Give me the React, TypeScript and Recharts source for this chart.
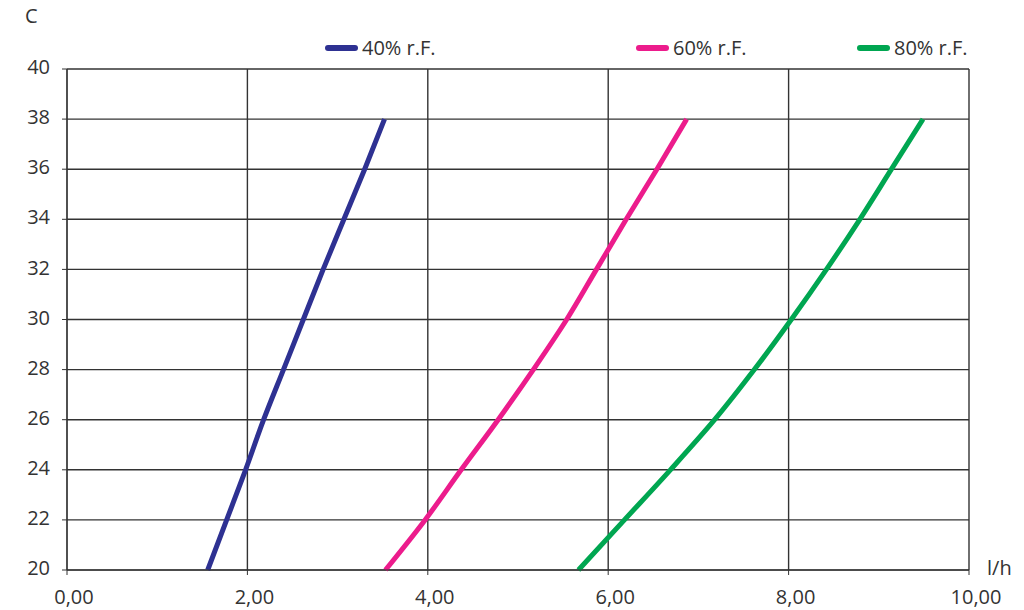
import React from 'react';
import { LineChart, Line, XAxis, YAxis, CartesianGrid, Legend } from 'recharts';

// temperature in C (y axis), water output in l/h (x axis)
const temps = [20, 22, 24, 26, 28, 30, 32, 34, 36, 38];
const rf40 = [1.56, 1.77, 1.98, 2.18, 2.40, 2.62, 2.84, 3.07, 3.30, 3.52];
const rf60 = [3.53, 3.97, 4.37, 4.78, 5.17, 5.54, 5.87, 6.20, 6.54, 6.87];
const rf80 = [5.67, 6.18, 6.69, 7.18, 7.62, 8.03, 8.42, 8.79, 9.14, 9.49];

const xTicks = [0, 2, 4, 6, 8, 10];
const yTicks = [20, 22, 24, 26, 28, 30, 32, 34, 36, 38, 40];
const seriesNames = ['40% r.F.', '60% r.F.', '80% r.F.'];

const data = temps.map((t, i) => ({ t, rf40: rf40[i], rf60: rf60[i], rf80: rf80[i] }));

const FONT = '"Open Sans", sans-serif';
const INK = '#333';
const legendLeft = [325, 636, 857];

function LegendBox({ payload }: any) {
    return (
        <div style={{ position: 'relative', height: 26, fontFamily: FONT, fontSize: 20, color: INK }}>
            {(payload || []).map((p: any, i: number) => (
                <div key={p.value} style={{ position: 'absolute', left: legendLeft[i], top: 0, display: 'flex', alignItems: 'center', whiteSpace: 'nowrap' }}>
                    <span style={{ display: 'inline-block', width: 33, height: 6, borderRadius: 3, background: p.color, marginRight: 4 }} />
                    <span>{p.value}</span>
                </div>
            ))}
        </div>
    );
}

export default function App() {
    return (
        <div style={{ position: 'absolute', left: 0, top: 0, width: 1024, height: 610, background: '#fff' }}>
            <LineChart width={1024} height={610} data={data} layout="vertical" margin={{ top: 43, right: 55, bottom: 0, left: 0 }}>
                <CartesianGrid stroke={INK} strokeWidth={1.4} />
                <XAxis
                    type="number"
                    domain={[0, 10]}
                    ticks={xTicks}
                    height={40}
                    tickSize={5}
                    tickMargin={15}
                    stroke={INK}
                    tickFormatter={(v: number) => v.toFixed(2).replace('.', ',')}
                    tick={{ fill: INK, fontSize: 20, fontFamily: FONT, dx: 7 }}
                    label={{ content: ({ viewBox }: any) => <text x={viewBox.x + viewBox.width + 18} y={viewBox.y + 5} fill={INK} fontSize={20} fontFamily={FONT}>l/h</text> }}
                />
                <YAxis
                    type="number"
                    dataKey="t"
                    domain={[20, 40]}
                    ticks={yTicks}
                    reversed
                    width={67}
                    tickSize={5}
                    tickMargin={12}
                    stroke={INK}
                    tick={{ fill: INK, fontSize: 20, fontFamily: FONT, dy: -2 }}
                    label={{ content: () => <text x={25} y={23} fill={INK} fontSize={20} fontFamily={FONT}>C</text> }}
                />
                <Legend verticalAlign="top" content={<LegendBox />} wrapperStyle={{ top: 34, left: 0, width: 1024 }} />
                <Line dataKey="rf40" name={seriesNames[0]} type="monotone" stroke="#2e3192" strokeWidth={5} dot={false} isAnimationActive={false} />
                <Line dataKey="rf60" name={seriesNames[1]} type="monotone" stroke="#ec1c8c" strokeWidth={5} dot={false} isAnimationActive={false} />
                <Line dataKey="rf80" name={seriesNames[2]} type="monotone" stroke="#00a651" strokeWidth={5} dot={false} isAnimationActive={false} />
            </LineChart>
        </div>
    );
}
